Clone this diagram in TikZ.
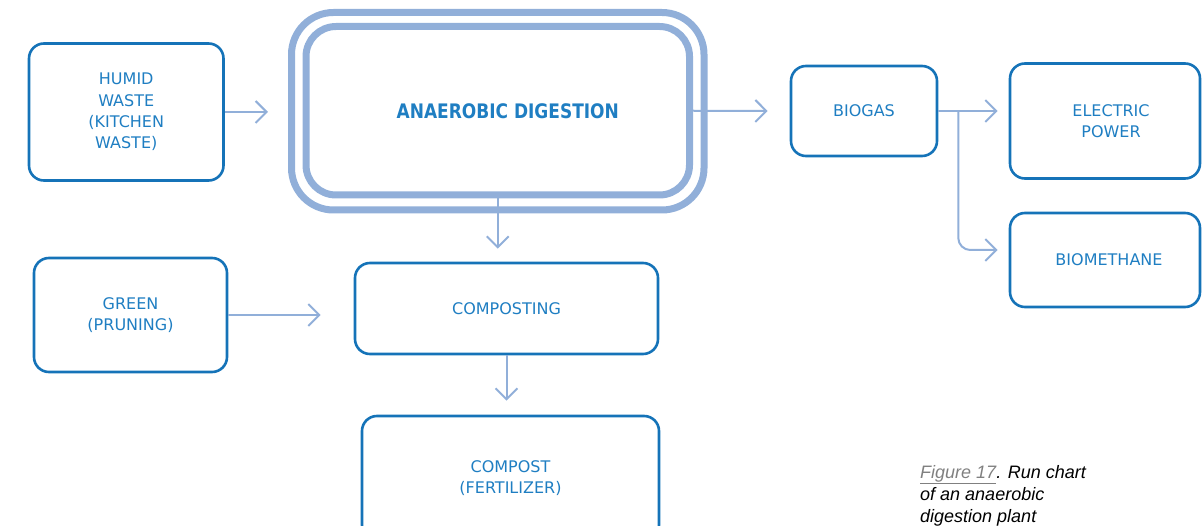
\documentclass[tikz,border=0pt]{standalone}
\usepackage{fontspec}
\setmainfont{DejaVu Sans}
\newfontfamily\titlefont{DejaVu Sans}[FakeStretch=0.85]
\newfontfamily\capfont{Liberation Sans}
\usetikzlibrary{arrows.meta}
\definecolor{boxblue}{HTML}{1573B8}
\definecolor{txtblue}{HTML}{1F7EC2}
\definecolor{linkblue}{HTML}{91AFD9}
\definecolor{figgray}{HTML}{808080}
\begin{document}
\begin{tikzpicture}[x=1pt,y=-1pt,
  box/.style={draw=boxblue, line width=2.6pt, rounded corners=15pt, text=txtblue,
    align=center, font=\fontsize{16}{21.3}\selectfont, inner sep=0pt},
  bigbox/.style={draw=linkblue, line width=7pt},
  link/.style={draw=linkblue, line width=2pt, -{Straight Barb[length=11pt,width=22pt]}},
]
\useasboundingbox (0,0) rectangle (1202,526);
\clip (0,0) rectangle (1202,526);

% central process with its double frame
\node[bigbox, rounded corners=42pt, minimum width=412.5pt, minimum height=197.5pt] (adouter) at (497.75,111.25) {};
\node[bigbox, rounded corners=30pt, minimum width=383.5pt, minimum height=168.5pt,
  text=txtblue, font=\titlefont\bfseries\fontsize{20}{24}\selectfont] (ad) at (497.75,110.75)
  {\hspace*{20pt}ANAEROBIC DIGESTION};

% inputs
\node[box, minimum width=194.5pt, minimum height=137pt] (humid) at (126.25,112) {HUMID\\WASTE\\(KITCHEN\\WASTE)};
\node[box, minimum width=193pt, minimum height=114pt] (green) at (130.5,315) {GREEN\\(PRUNING)};

% outputs
\node[box, minimum width=146pt, minimum height=90pt] (biogas) at (864,111) {BIOGAS};
\node[box, minimum width=190pt, minimum height=115pt] (electric) at (1105,121) {\hspace*{12pt}ELECTRIC\\\hspace*{12pt}POWER};
\node[box, minimum width=190pt, minimum height=94pt] (biomethane) at (1105,260) {\hspace*{8pt}BIOMETHANE};
\node[box, minimum width=303pt, minimum height=91pt] (composting) at (506.5,308.5) {COMPOSTING};
\node[box, minimum width=297pt, minimum height=124pt] (compost) at (510.5,478) {COMPOST\\(FERTILIZER)};

% connectors
\draw[link] (humid.east) -- ([xshift=-20pt]adouter.west |- humid.east);
\draw[link] (ad.east) -- ([xshift=-22pt]biogas.west);
\draw[link] (biogas.east) -- ([xshift=-11pt]electric.west |- biogas.east);
\coordinate (split) at ([xshift=20pt]biogas.east);
\draw[link, rounded corners=12pt] (split) |- ([xshift=-11pt,yshift=10pt]biomethane.west);
\draw[link] (ad.south) -- ([yshift=13pt]ad.south |- composting.north);
\draw[link] (green.east) -- ([xshift=-33pt]composting.west |- green.east);
\draw[link] (composting.south) -- ([yshift=14pt]composting.south |- compost.north);

% caption, placed by the baseline of its last line
\node[anchor=base west, align=left, inner sep=0pt,
  font=\capfont\itshape\fontsize{18}{22}\selectfont] (cap) at (920,522)
  {\textcolor{figgray}{\underline{Figure 17}}. Run chart\\of an anaerobic\\digestion plant};
\end{tikzpicture}
\end{document}
